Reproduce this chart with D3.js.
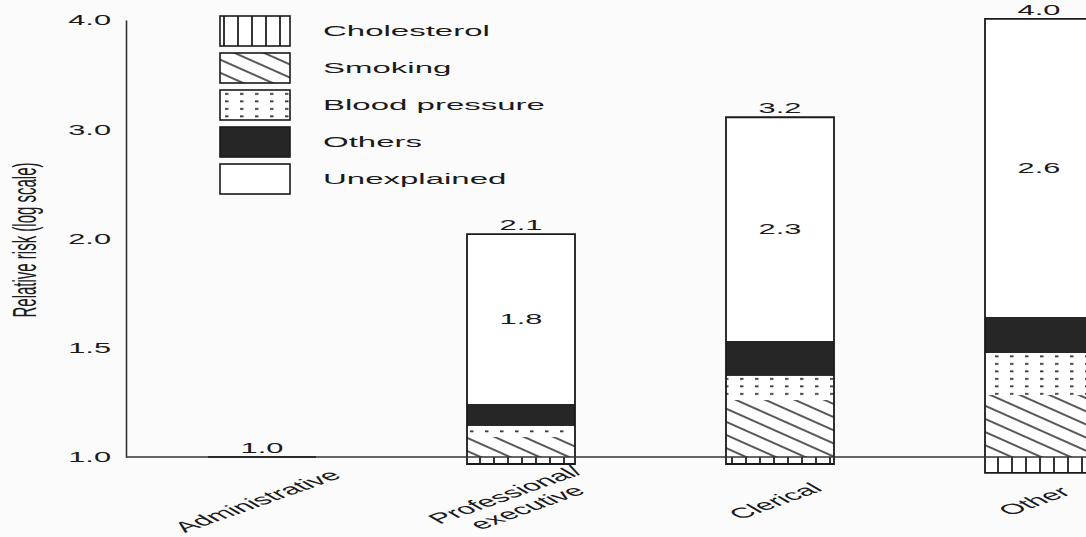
<!DOCTYPE html>
<html>
<head>
<meta charset="utf-8">
<script src="https://cdn.jsdelivr.net/npm/d3@7"></script>
<style>
  body { margin: 0; background: #fbfbfb; }
  svg { display: block; }
  text { font-family: "Liberation Sans", Arial, sans-serif; fill: #1a1a1a; }
</style>
</head>
<body>
<svg width="1086" height="537"></svg>
<script>
// categories and values (in axis units)
var categories = ["Administrative", "Professional/\nexecutive", "Clerical", "Other"];
var series = ["Cholesterol", "Smoking", "Blood pressure", "Others", "Unexplained"];
var barBase = [1.0, 0.968, 0.968, 0.927];
var cholesterolTop = [1.0, 1.0, 1.0, 1.0];
var smokingTop = [1.0, 1.092, 1.261, 1.284];
var bloodPressureTop = [1.0, 1.142, 1.371, 1.476];
var othersTop = [1.0, 1.243, 1.531, 1.641];
var unexplainedTop = [1.0, 2.04, 3.11, 4.01];
var totalLabels = ["1.0", "2.1", "3.2", "4.0"];
var unexplainedLabels = ["", "1.8", "2.3", "2.6"];
var tickValues = [1.0, 1.5, 2.0, 3.0, 4.0];

var svg = d3.select("svg"),
    sx = 2.2,            // the whole figure is stretched sideways
    yBottom = 457,
    yTop = 20,
    axisX = 126,
    barW = 108;

var y = d3.scaleLinear()
    .domain(tickValues)
    .range(tickValues.map(function(d, i) { return yBottom - i * (yBottom - yTop) / (tickValues.length - 1); }));

var x = d3.scalePoint()
    .domain(categories)
    .range([262, 1039]);

// patterns
var defs = svg.append("defs");

var pChol = defs.append("pattern").attr("id", "chol")
    .attr("patternUnits", "userSpaceOnUse").attr("width", 14).attr("height", 10);
pChol.append("rect").attr("width", 14).attr("height", 10).attr("fill", "#fff");
pChol.append("line").attr("x1", 4).attr("x2", 4).attr("y1", 0).attr("y2", 10)
    .attr("stroke", "#111").attr("stroke-width", 1.7);

var pSmok = defs.append("pattern").attr("id", "smok")
    .attr("patternUnits", "userSpaceOnUse").attr("width", 10).attr("height", 12)
    .attr("patternTransform", "rotate(24)");
pSmok.append("rect").attr("width", 10).attr("height", 12).attr("fill", "#fff");
pSmok.append("line").attr("x1", 0).attr("x2", 10).attr("y1", 6).attr("y2", 6)
    .attr("stroke", "#111").attr("stroke-width", 1.4);

var pBp = defs.append("pattern").attr("id", "bp")
    .attr("patternUnits", "userSpaceOnUse").attr("width", 15).attr("height", 7.5);
pBp.append("rect").attr("width", 15).attr("height", 7.5).attr("fill", "#fff");
pBp.append("rect").attr("x", 5).attr("y", 3).attr("width", 3.5).attr("height", 1.8).attr("fill", "#333");

var fills = { chol: "url(#chol)", smok: "url(#smok)", bp: "url(#bp)", oth: "#262626", unex: "#fff" };
var keys = ["chol", "smok", "bp", "oth", "unex"];

// stretched text helper
function stretched(sel, px, py, angle) {
    return sel.attr("transform", "translate(" + px + "," + py + ") scale(" + sx + ",1)" + (angle ? " rotate(" + angle + ")" : ""));
}

// bar segments
var segs = [];
categories.forEach(function(c, i) {
    var bounds = [barBase[i], cholesterolTop[i], smokingTop[i], bloodPressureTop[i], othersTop[i], unexplainedTop[i]];
    keys.forEach(function(k, j) {
        if (bounds[j + 1] > bounds[j]) segs.push({ cat: c, key: k, y0: bounds[j], y1: bounds[j + 1] });
    });
});

var bars = svg.append("g");
bars.selectAll("rect")
    .data(segs)
    .enter().append("rect")
    .attr("x", function(d) { return x(d.cat) - barW / 2; })
    .attr("y", function(d) { return y(d.y1); })
    .attr("width", barW)
    .attr("height", function(d) { return y(d.y0) - y(d.y1); })
    .attr("fill", function(d) { return fills[d.key]; });

bars.selectAll("path")
    .data(categories)
    .enter().append("path")
    .attr("d", function(c, i) {
        var x0 = x(c) - barW / 2, x1 = x(c) + barW / 2;
        return "M" + x0 + "," + y(barBase[i]) + "H" + x1 + "V" + y(unexplainedTop[i]) + "H" + x0 + "Z";
    })
    .attr("fill", "none")
    .attr("stroke", "#1a1a1a")
    .attr("stroke-width", 1.8);

// baseline
svg.append("line")
    .attr("x1", axisX).attr("x2", 1086)
    .attr("y1", y(1)).attr("y2", y(1))
    .attr("stroke", "#333").attr("stroke-width", 1.5);

// y axis
var gy = svg.append("g")
    .attr("transform", "translate(" + axisX + ",0)")
    .call(d3.axisLeft(y).tickValues(tickValues).tickSize(0).tickPadding(0).tickFormat(d3.format(".1f")));
gy.select(".domain").attr("stroke", "#333").attr("stroke-width", 1.6);
gy.selectAll(".tick text")
    .attr("x", null).attr("dy", "0.35em")
    .attr("transform", "translate(-15,0) scale(" + sx + ",1)")
    .style("font-family", "Liberation Sans, Arial, sans-serif")
    .style("font-size", "14px")
    .attr("fill", "#1a1a1a");

stretched(svg.append("text"), 36, 240, -90)
    .attr("text-anchor", "middle")
    .style("font-size", "15px")
    .attr("fill", "#222")
    .text("Relative risk (log scale)");

// value labels
svg.append("g").selectAll("text")
    .data(categories)
    .enter().append("text")
    .each(function(c, i) {
        stretched(d3.select(this), x(c), y(unexplainedTop[i]) - 4, 0);
    })
    .attr("text-anchor", "middle")
    .style("font-size", "14px")
    .text(function(c, i) { return totalLabels[i]; });

svg.append("g").selectAll("text")
    .data(categories)
    .enter().append("text")
    .each(function(c, i) {
        stretched(d3.select(this), x(c), (y(othersTop[i]) + y(unexplainedTop[i])) / 2, 0);
    })
    .attr("dy", "0.35em")
    .attr("text-anchor", "middle")
    .style("font-size", "14px")
    .text(function(c, i) { return unexplainedLabels[i]; });

// category labels
svg.append("g").selectAll("text")
    .data(categories)
    .enter().append("text")
    .each(function(c) {
        var t = stretched(d3.select(this), x(c) - 5, 501, -38);
        var lines = c.split("\n");
        lines.forEach(function(l, k) {
            t.append("tspan")
                .attr("x", 0)
                .attr("dy", k === 0 ? (0.35 - (lines.length - 1) * 0.55) + "em" : "1.1em")
                .text(l);
        });
    })
    .attr("text-anchor", "middle")
    .style("font-size", "14.5px");

// legend
var legend = svg.append("g").selectAll("g")
    .data(series)
    .enter().append("g")
    .attr("transform", function(d, i) { return "translate(220," + (16 + i * 37) + ")"; });

legend.append("rect")
    .attr("width", 70).attr("height", 30)
    .attr("fill", function(d, i) { return fills[keys[i]]; })
    .attr("stroke", "#1a1a1a").attr("stroke-width", 1.6);

legend.append("text")
    .each(function() { stretched(d3.select(this), 103, 15, 0); })
    .attr("dy", "0.35em")
    .style("font-size", "15px")
    .text(function(d) { return d; });
</script>
</body>
</html>
